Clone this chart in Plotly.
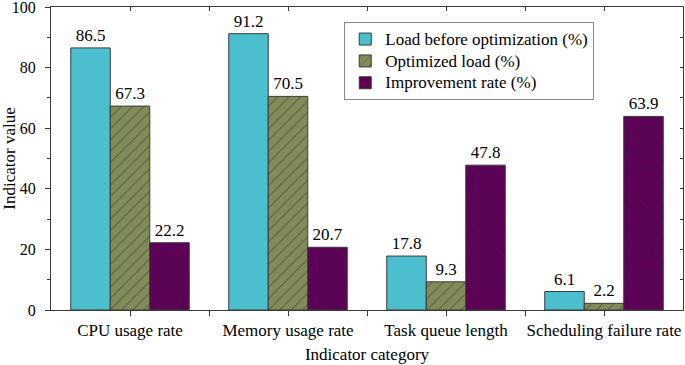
import plotly.graph_objects as go

categories = ["CPU usage rate", "Memory usage rate", "Task queue length", "Scheduling failure rate"]
before = [86.5, 91.2, 17.8, 6.1]
optimized = [67.3, 70.5, 9.3, 2.2]
improvement = [22.2, 20.7, 47.8, 63.9]
series_names = ["Load before optimization (%)", "Optimized load (%)", "Improvement rate (%)"]

xpos = list(range(len(categories)))
FONT = "Liberation Serif, Times New Roman, serif"
LINE = "#3a3a3a"
FS = 17

fig = go.Figure()
specs = [
    (before, series_names[0], "#4cbfcf", ""),
    (optimized, series_names[1], "#818c59", "/"),
    (improvement, series_names[2], "#5e0057", "\\"),
]
for vals, name, color, shape in specs:
    marker = dict(color=color, line=dict(color=LINE, width=1))
    if shape:
        marker["pattern"] = dict(shape=shape, fgcolor="#2b2b2b", size=8, solidity=0.12, fillmode="overlay")
    fig.add_trace(go.Bar(
        x=xpos, y=vals, name=f"<span style='font-size:{FS}px'>{name}</span>", marker=marker,
        text=[f"{v:.1f}" for v in vals], textposition="outside",
        textfont=dict(family=FONT, size=FS, color="black"),
        cliponaxis=False,
    ))

fig.update_layout(
    width=685, height=365,
    margin=dict(l=51, r=2, t=7, b=55, autoexpand=False),
    plot_bgcolor="white", paper_bgcolor="white",
    barmode="group", bargap=0.25, bargroupgap=0,
    font=dict(family=FONT, size=FS, color="black"),
    showlegend=True,
    legend=dict(x=0.464, y=0.95, xanchor="left", yanchor="top",
                bgcolor="white", bordercolor="#888", borderwidth=1,
                font=dict(family=FONT, size=14.5), tracegroupgap=0),
    xaxis=dict(range=[-0.5, 3.5], tickvals=xpos, ticktext=categories, automargin=False,
               ticks="outside", ticklen=5, tickcolor=LINE,
               minor=dict(tickvals=[0.5, 1.5, 2.5], ticks="outside", ticklen=5, tickcolor=LINE),
               showline=True, linecolor=LINE, linewidth=1, showgrid=False, zeroline=False,
               tickfont=dict(family=FONT, size=FS),
               title=dict(text="Indicator category", font=dict(family=FONT, size=FS), standoff=8)),
    yaxis=dict(range=[0, 100], dtick=20, ticks="outside", ticklen=5, tickcolor=LINE, automargin=False,
               minor=dict(dtick=10, ticks="outside", ticklen=3, tickcolor=LINE),
               showline=True, linecolor=LINE, linewidth=1, showgrid=False, zeroline=False,
               tickfont=dict(family=FONT, size=16), ticklabeloverflow="allow", ticklabelstandoff=6,
               title=dict(text="Indicator value", font=dict(family=FONT, size=FS), standoff=4)),
    xaxis2=dict(overlaying="x", side="top", range=[-0.5, 3.5], tickvals=xpos, automargin=False,
                showticklabels=False, ticks="inside", ticklen=4, tickcolor=LINE,
                minor=dict(tickvals=[0.5, 1.5, 2.5], ticks="inside", ticklen=4, tickcolor=LINE),
                showline=True, linecolor=LINE, linewidth=1, showgrid=False, zeroline=False),
    yaxis2=dict(overlaying="y", side="right", range=[0, 100], dtick=20, automargin=False,
                showticklabels=False, ticks="inside", ticklen=3, tickcolor=LINE,
                minor=dict(dtick=10, ticks="inside", ticklen=3, tickcolor=LINE),
                showline=True, linecolor=LINE, linewidth=1, showgrid=False, zeroline=False),
)

# invisible helper trace so the mirrored frame axes render
fig.add_trace(go.Scatter(x=[0], y=[0], xaxis="x2", yaxis="y2", mode="markers",
                         marker=dict(opacity=0), showlegend=False, hoverinfo="skip"))

fig.write_html("out.html", config={"displayModeBar": False},
               post_script="document.body.style.margin='0';")
